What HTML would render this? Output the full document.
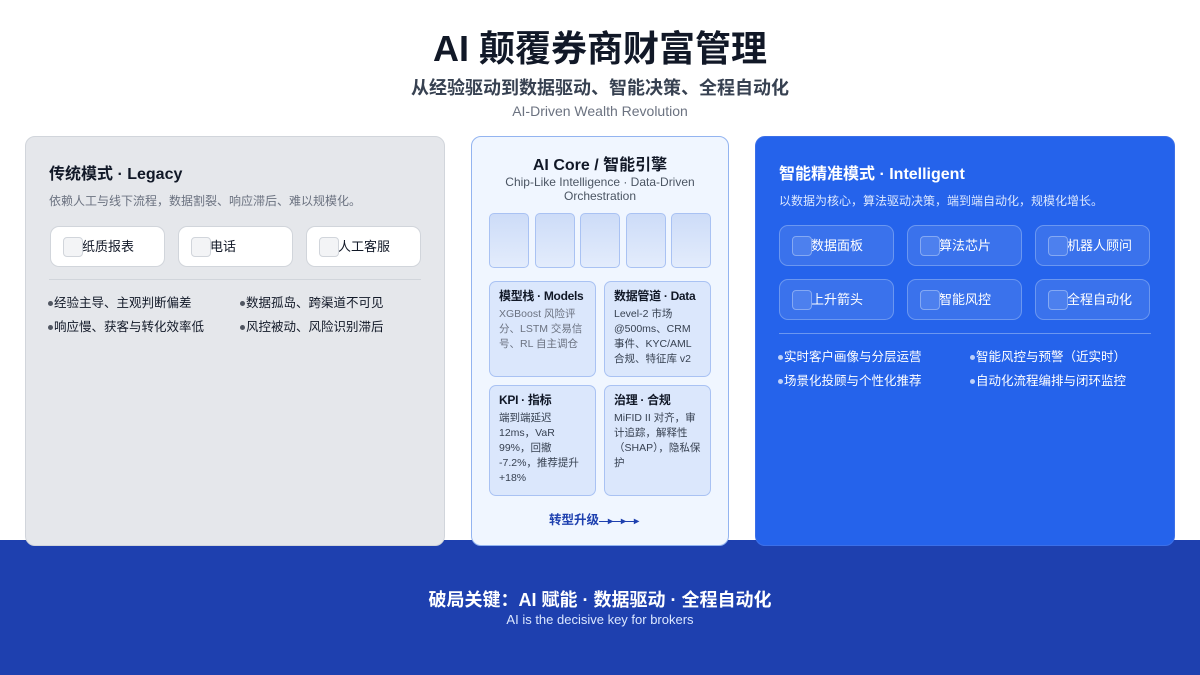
<!DOCTYPE html>
<html><head><meta charset="utf-8"><style>
*{margin:0;padding:0;box-sizing:border-box}
body{width:1200px;height:675px;position:relative;background:#fff;font-family:"Liberation Sans","Noto Sans CJK SC",sans-serif;overflow:hidden}
.a{position:absolute}
.band{left:0;top:540px;width:1200px;height:135px;background:#1e40af}
.c{text-align:center;width:1200px;left:0}
.card{border-radius:10px}
.chip{position:absolute;height:41px;width:115px;border-radius:9px;font-size:13px;line-height:39px;padding-left:31px}
.chip i{position:absolute;left:12px;top:10px;width:20px;height:20px;border-radius:4px}
.b{position:absolute;font-size:12.5px;white-space:nowrap}
.b:before{content:"";display:inline-block;width:5px;height:5px;border-radius:50%;margin-right:1px;vertical-align:middle;background:currentColor;opacity:.7}
.bx{position:absolute;background:#dbe7fc;border:1px solid #a9c2f3;border-radius:7px;padding:7px 9px;font-size:10.5px;line-height:15px;color:#6b7280}
.bx b{display:block;color:#111827;font-size:12px;margin-bottom:3px;white-space:nowrap;letter-spacing:-0.3px}
.sq{position:absolute;top:213px;width:40px;height:55px;border:1px solid #a9c2f3;border-radius:5px;background:linear-gradient(#cddcf8,#e3ecfc)}
</style></head><body>
<div class="a band"></div>
<div class="a c" style="top:20px;font-size:36px;font-weight:bold;color:#111827">AI 颠覆券商财富管理</div>
<div class="a c" style="top:74px;font-size:18px;font-weight:bold;color:#374151">从经验驱动到数据驱动、智能决策、全程自动化</div>
<div class="a c" style="top:103px;font-size:14px;color:#6b7280">AI-Driven Wealth Revolution</div>

<div class="a card" style="left:25px;top:136px;width:420px;height:410px;background:#e5e7eb;border:1px solid #d1d5db"></div>
<div class="a" style="left:49px;top:160px;font-size:16px;font-weight:bold;color:#111827">传统模式 · Legacy</div>
<div class="a" style="left:49px;top:192px;font-size:12px;color:#6b7280">依赖人工与线下流程，数据割裂、响应滞后、难以规模化。</div>
<div class="chip" style="left:50px;top:226px;background:#fff;border:1px solid #d1d5db;color:#111827"><i style="background:#f3f4f6;border:1px solid #d1d5db"></i>纸质报表</div>
<div class="chip" style="left:178px;top:226px;background:#fff;border:1px solid #d1d5db;color:#111827"><i style="background:#f3f4f6;border:1px solid #d1d5db"></i>电话</div>
<div class="chip" style="left:306px;top:226px;background:#fff;border:1px solid #d1d5db;color:#111827"><i style="background:#f3f4f6;border:1px solid #d1d5db"></i>人工客服</div>
<div class="a" style="left:49px;top:279px;width:372px;height:1px;background:#d1d5db"></div>
<div class="b" style="left:48px;top:292px;color:#111827">经验主导、主观判断偏差</div>
<div class="b" style="left:240px;top:292px;color:#111827">数据孤岛、跨渠道不可见</div>
<div class="b" style="left:48px;top:316px;color:#111827">响应慢、获客与转化效率低</div>
<div class="b" style="left:240px;top:316px;color:#111827">风控被动、风险识别滞后</div>

<div class="a card" style="left:471px;top:136px;width:258px;height:410px;background:#f0f6ff;border:1px solid #93b4f0"></div>
<div class="a" style="left:471px;width:258px;text-align:center;top:151px;font-size:16px;font-weight:bold;color:#111827">AI Core / 智能引擎</div>
<div class="a" style="left:480px;width:240px;text-align:center;top:175px;font-size:12px;line-height:14px;color:#4b5563">Chip-Like Intelligence · Data-Driven Orchestration</div>
<div class="sq" style="left:489px"></div><div class="sq" style="left:535px"></div><div class="sq" style="left:580px"></div><div class="sq" style="left:626px"></div><div class="sq" style="left:671px"></div>
<div class="bx" style="left:489px;top:281px;width:107px;height:96px"><b>模型栈 · Models</b>XGBoost 风险评分、LSTM 交易信号、RL 自主调仓</div>
<div class="bx" style="left:604px;top:281px;width:107px;height:96px"><b>数据管道 · Data</b><span style="color:#374151">Level-2 市场 @500ms、CRM 事件、KYC/AML 合规、特征库 v2</span></div>
<div class="bx" style="left:489px;top:385px;width:107px;height:111px"><b>KPI · 指标</b><span style="color:#374151">端到端延迟 12ms，VaR 99%，回撤 -7.2%，推荐提升 +18%</span></div>
<div class="bx" style="left:604px;top:385px;width:107px;height:111px"><b>治理 · 合规</b><span style="color:#374151">MiFID II 对齐，审计追踪，解释性（SHAP），隐私保护</span></div>
<div class="a" style="left:549px;top:509px;font-size:12.5px;font-weight:bold;color:#1e40af;white-space:nowrap">转型升级<span style="font-size:10px;letter-spacing:-1px">—▸—▸—▸</span></div>

<div class="a card" style="left:755px;top:136px;width:420px;height:410px;background:#2563eb;border:1px solid #3b6fe8"></div>
<div class="a" style="left:779px;top:160px;font-size:16px;font-weight:bold;color:#fff">智能精准模式 · Intelligent</div>
<div class="a" style="left:779px;top:192px;font-size:12px;color:#dbe7ff">以数据为核心，算法驱动决策，端到端自动化，规模化增长。</div>
<div class="chip" style="left:779px;top:225px;background:#3a72ec;border:1px solid #6b97f0;color:#fff"><i style="background:#4d80ee;border:1px solid #85a9f3"></i>数据面板</div>
<div class="chip" style="left:907px;top:225px;background:#3a72ec;border:1px solid #6b97f0;color:#fff"><i style="background:#4d80ee;border:1px solid #85a9f3"></i>算法芯片</div>
<div class="chip" style="left:1035px;top:225px;background:#3a72ec;border:1px solid #6b97f0;color:#fff"><i style="background:#4d80ee;border:1px solid #85a9f3"></i>机器人顾问</div>
<div class="chip" style="left:779px;top:279px;background:#3a72ec;border:1px solid #6b97f0;color:#fff"><i style="background:#4d80ee;border:1px solid #85a9f3"></i>上升箭头</div>
<div class="chip" style="left:907px;top:279px;background:#3a72ec;border:1px solid #6b97f0;color:#fff"><i style="background:#4d80ee;border:1px solid #85a9f3"></i>智能风控</div>
<div class="chip" style="left:1035px;top:279px;background:#3a72ec;border:1px solid #6b97f0;color:#fff"><i style="background:#4d80ee;border:1px solid #85a9f3"></i>全程自动化</div>
<div class="a" style="left:779px;top:333px;width:372px;height:1px;background:#6b97f0"></div>
<div class="b" style="left:778px;top:346px;color:#fff">实时客户画像与分层运营</div>
<div class="b" style="left:970px;top:346px;color:#fff">智能风控与预警（近实时）</div>
<div class="b" style="left:778px;top:370px;color:#fff">场景化投顾与个性化推荐</div>
<div class="b" style="left:970px;top:370px;color:#fff">自动化流程编排与闭环监控</div>

<div class="a c" style="top:586px;font-size:18px;font-weight:bold;color:#fff">破局关键：AI 赋能 · 数据驱动 · 全程自动化</div>
<div class="a c" style="top:612px;font-size:13px;color:#dbe7ff">AI is the decisive key for brokers</div>
</body></html>
